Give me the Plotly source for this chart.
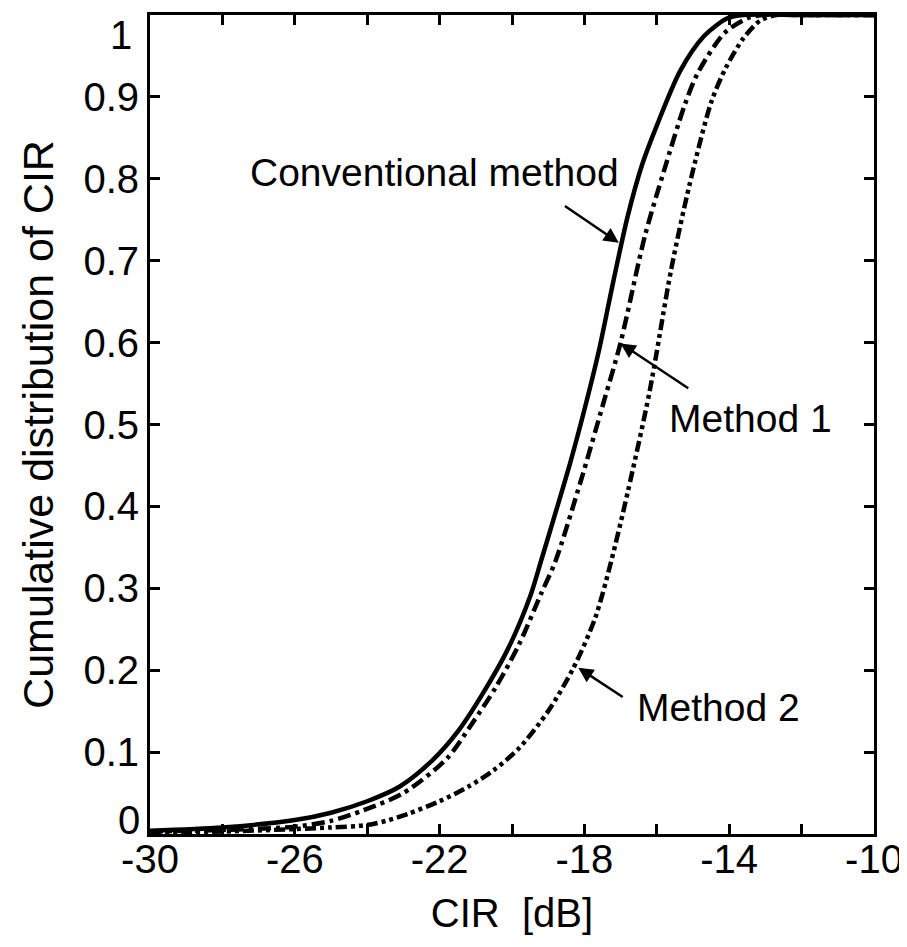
import plotly.graph_objects as go

# Data
cir_conv = [-30, -28, -26, -25, -24, -23.1, -22.2, -21.5, -20.8, -20.1, -19.5, -19.2, -18.8,
            -18.4, -18.0, -17.6, -17.2, -16.8, -16.4, -16.0, -15.35, -14.7, -14.05, -13.6, -12, -10]
cdf_conv = [0.004, 0.008, 0.017, 0.026, 0.040, 0.058, 0.090, 0.125, 0.172, 0.227, 0.29, 0.333, 0.392,
            0.452, 0.518, 0.59, 0.675, 0.755, 0.818, 0.865, 0.932, 0.974, 0.996, 1.0, 1.0, 1.0]

cir_m1 = [-30, -28, -26, -25, -24.1, -23.0, -21.8, -21.1, -20.45, -19.8, -19.2, -18.8, -18.1,
          -17.45, -17.0, -16.33, -15.8, -15.23, -14.87, -14.13, -13.5, -13.1, -12, -10]
cdf_m1 = [0.003, 0.005, 0.009, 0.016, 0.029, 0.050, 0.092, 0.135, 0.179, 0.232, 0.293, 0.333, 0.431,
          0.53, 0.60, 0.73, 0.81, 0.89, 0.929, 0.978, 0.996, 1.0, 1.0, 1.0]

cir_m2 = [-30, -28, -26, -25, -24, -23.4, -22.85, -22.0, -21.2, -20.5, -19.8, -19.0, -18.3, -17.7,
          -17.26, -16.8, -16.2, -15.6, -15.1, -14.5, -14.1, -13.6, -13.15, -12.7, -12, -10]
cdf_m2 = [0.002, 0.003, 0.006, 0.008, 0.011, 0.017, 0.025, 0.040, 0.058, 0.078, 0.105, 0.150, 0.203,
          0.264, 0.333, 0.418, 0.54, 0.69, 0.792, 0.893, 0.935, 0.972, 0.993, 1.0, 1.0, 1.0]

x_tickvals = [-30, -28, -26, -24, -22, -20, -18, -16, -14, -12, -10]
x_ticktext = ["-30", "", "-26", "", "-22", "", "-18", "", "-14", "", "-10"]
y_tickvals = [0, 0.1, 0.2, 0.3, 0.4, 0.5, 0.6, 0.7, 0.8, 0.9, 1]
y_ticktext = ["", "0.1", "0.2", "0.3", "0.4", "0.5", "0.6", "0.7", "0.8", "0.9", ""]

FONT = "Liberation Sans, Arial, Helvetica, sans-serif"
TICK_SIZE = 40

fig = go.Figure()
fig.add_trace(go.Scatter(x=cir_conv, y=cdf_conv, mode="lines", name="Conventional method",
                         line=dict(color="black", width=4.5, shape="spline", smoothing=0.8)))
fig.add_trace(go.Scatter(x=cir_m1, y=cdf_m1, mode="lines", name="Method 1",
                         line=dict(color="black", width=4.5, shape="spline", smoothing=0.8,
                                   dash="13px,5px,4px,5px")))
fig.add_trace(go.Scatter(x=cir_m2, y=cdf_m2, mode="lines", name="Method 2",
                         line=dict(color="black", width=4.5, shape="spline", smoothing=0.8,
                                   dash="11px,4px,4px,4px,4px,4px")))

# labels with arrows
labels = [
    ("Conventional method", -22.15, 0.808, -17.05, 0.722, -18.58, 0.768),
    ("Method 1", -13.4, 0.507, -17.0, 0.599, -15.09, 0.543),
    ("Method 2", -14.3, 0.155, -18.17, 0.203, -16.9, 0.166),
]
for text, tx, ty, hx, hy, axx, ayy in labels:
    fig.add_annotation(x=tx, y=ty, text=text, showarrow=False,
                       font=dict(family=FONT, size=39, color="black"),
                       xanchor="center", yanchor="middle")
    fig.add_annotation(x=hx, y=hy, ax=axx, ay=ayy, xref="x", yref="y", axref="x", ayref="y",
                       text="", showarrow=True, arrowhead=2, arrowsize=1.2, arrowwidth=2.5,
                       arrowcolor="black")

# end labels of the y axis, offset like in the reference
fig.add_annotation(x=0, y=0, xref="paper", yref="y", text="0", showarrow=False,
                   xanchor="right", yanchor="middle", xshift=-8, yshift=14,
                   font=dict(family=FONT, size=TICK_SIZE, color="black"))
fig.add_annotation(x=0, y=1, xref="paper", yref="y", text="1", showarrow=False,
                   xanchor="right", yanchor="middle", xshift=-16, yshift=-20,
                   font=dict(family=FONT, size=TICK_SIZE, color="black"))

fig.update_layout(
    width=899, height=939,
    margin=dict(l=142, r=30, t=4, b=113),
    paper_bgcolor="white", plot_bgcolor="white",
    showlegend=False,
    font=dict(family=FONT, color="black"),
)
fig.update_xaxes(range=[-30, -10], tickvals=x_tickvals, ticktext=x_ticktext,
                 ticks="inside", ticklen=10, tickwidth=2.5, tickcolor="black",
                 showline=True, linewidth=3, linecolor="black", mirror="ticks",
                 showgrid=False, zeroline=False,
                 tickfont=dict(size=TICK_SIZE, family=FONT), ticklabelstandoff=-12,
                 title=dict(text="CIR  [dB]", font=dict(size=40, family=FONT), standoff=19))
fig.update_yaxes(range=[0, 1], tickvals=y_tickvals, ticktext=y_ticktext,
                 ticks="inside", ticklen=10, tickwidth=2.5, tickcolor="black",
                 showline=True, linewidth=3, linecolor="black", mirror="ticks",
                 showgrid=False, zeroline=False,
                 tickfont=dict(size=TICK_SIZE, family=FONT),
                 title=dict(text="Cumulative distribution of CIR", font=dict(size=43, family=FONT),
                            standoff=17))

fig.write_html("out.html")
